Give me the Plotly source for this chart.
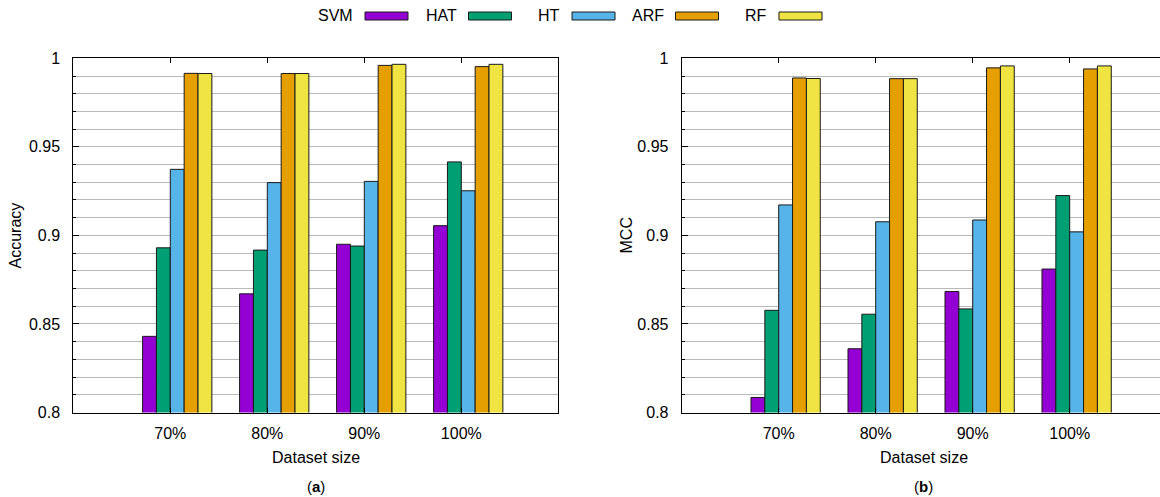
import plotly.graph_objects as go

W, H = 1160, 497

categories = ["70%", "80%", "90%", "100%"]
models = ["SVM", "HAT", "HT", "ARF", "RF"]
colors = ["#9400D3", "#009E73", "#56B4E9", "#E69F00", "#F0E442"]

acc_svm = [0.843, 0.867, 0.895, 0.9055]
acc_hat = [0.893, 0.8917, 0.894, 0.9415]
acc_ht = [0.9373, 0.9298, 0.9305, 0.9252]
acc_arf = [0.9915, 0.9914, 0.996, 0.9953]
acc_rf = [0.9914, 0.9914, 0.9966, 0.9966]

mcc_svm = [0.8085, 0.836, 0.8683, 0.881]
mcc_hat = [0.8577, 0.8555, 0.8585, 0.9225]
mcc_ht = [0.9172, 0.9077, 0.9087, 0.902]
mcc_arf = [0.9889, 0.9885, 0.9946, 0.994]
mcc_rf = [0.9886, 0.9885, 0.9957, 0.9957]

ytick_vals = [0.8, 0.85, 0.9, 0.95, 1.0]
ytick_text = ["0.8", "0.85", "0.9", "0.95", "1"]

acc_series = [acc_svm, acc_hat, acc_ht, acc_arf, acc_rf]
mcc_series = [mcc_svm, mcc_hat, mcc_ht, mcc_arf, mcc_rf]

FONT = "Liberation Sans, Arial, sans-serif"
idx = list(range(len(categories)))
half = 1 / 14  # half of one bar width (cluster of 5 bars + gap of 2)

fig = go.Figure()
for series, xa, ya in [(acc_series, "x", "y"), (mcc_series, "x2", "y2")]:
    for name, vals, col in zip(models, series, colors):
        fig.add_trace(go.Bar(
            x=idx, y=vals, name=name, xaxis=xa, yaxis=ya,
            marker=dict(color=col, line=dict(color="#1a1a1a", width=1)),
            showlegend=False, offsetgroup=name,
        ))

def px_x(p):
    return p / W

def px_y(p):
    return 1 - p / H

top_px, bot_px = 58.3, 412.5
left_dom = [px_x(73.3), px_x(558.3)]
right_dom = [px_x(681.7), 1.0]
unit = (558.3 - 73.3) / 5.0
right_units = (W - 681.7) / unit

tickpos = [i - half for i in idx]
grid_col = "#b9b9b9"

def xaxis(domain, rng, anchor):
    return dict(domain=domain, range=rng, anchor=anchor, tickmode="array",
                tickvals=tickpos, ticktext=categories, ticks="inside", ticklen=5,
                tickcolor="black", showline=True, linecolor="black", linewidth=1,
                mirror="ticks", showgrid=False, zeroline=False,
                tickfont=dict(family=FONT, size=16, color="black"),
                automargin=False, ticklabelstandoff=6, fixedrange=True)

def yaxis(anchor, mirror):
    return dict(domain=[px_y(bot_px), px_y(top_px)], range=[0.8, 1.0], anchor=anchor,
                tickmode="array", tickvals=ytick_vals, ticktext=ytick_text,
                ticks="inside", ticklen=6, tickcolor="black",
                showline=True, linecolor="black", linewidth=1, mirror=mirror,
                showgrid=True, gridcolor=grid_col, gridwidth=1, zeroline=False,
                minor=dict(tickmode="linear", tick0=0.8, dtick=0.01, showgrid=True,
                           gridcolor=grid_col, gridwidth=1, ticks="inside", ticklen=3,
                           tickcolor="black"),
                tickfont=dict(family=FONT, size=16, color="black"),
                automargin=False, ticklabelstandoff=9, fixedrange=True)

annotations = []
def ann(text, x, y, **kw):
    d = dict(text=text, x=px_x(x), y=px_y(y), xref="paper", yref="paper",
             showarrow=False, font=dict(family=FONT, size=16, color="black"),
             xanchor="center", yanchor="middle")
    d.update(kw)
    annotations.append(d)

ann("Accuracy", 15, 235.5, textangle=-90)
ann("MCC", 626, 235.5, textangle=-90)
ann("Dataset size", 315.8, 457)
ann("Dataset size", 924, 457)
ann("(<b>a</b>)", 315.8, 486, font=dict(family=FONT, size=15, color="black"))
ann("(<b>b</b>)", 923, 486, font=dict(family=FONT, size=15, color="black"))

shapes = []
sw_left = [365, 468.5, 572, 675.5, 779]
for name, col, sl in zip(models, colors, sw_left):
    ann(name, sl - 10, 16, xanchor="right")
    shapes.append(dict(type="rect", xref="paper", yref="paper",
                       x0=px_x(sl), x1=px_x(sl + 43), y0=px_y(20), y1=px_y(12),
                       fillcolor=col, line=dict(color="#1a1a1a", width=1)))

fig.update_layout(
    width=W, height=H, margin=dict(l=0, r=0, t=0, b=0),
    paper_bgcolor="white", plot_bgcolor="white",
    barmode="group", bargap=2 / 7, bargroupgap=0,
    xaxis=xaxis(left_dom, [-1 - half, 4 - half], "y"),
    yaxis=yaxis("x", True),
    xaxis2=xaxis(right_dom, [-1 - half, -1 - half + right_units], "y2"),
    yaxis2=yaxis("x2", False),
    annotations=annotations, shapes=shapes,
    font=dict(family=FONT, size=16, color="black"),
)

fig.write_html("out.html")
